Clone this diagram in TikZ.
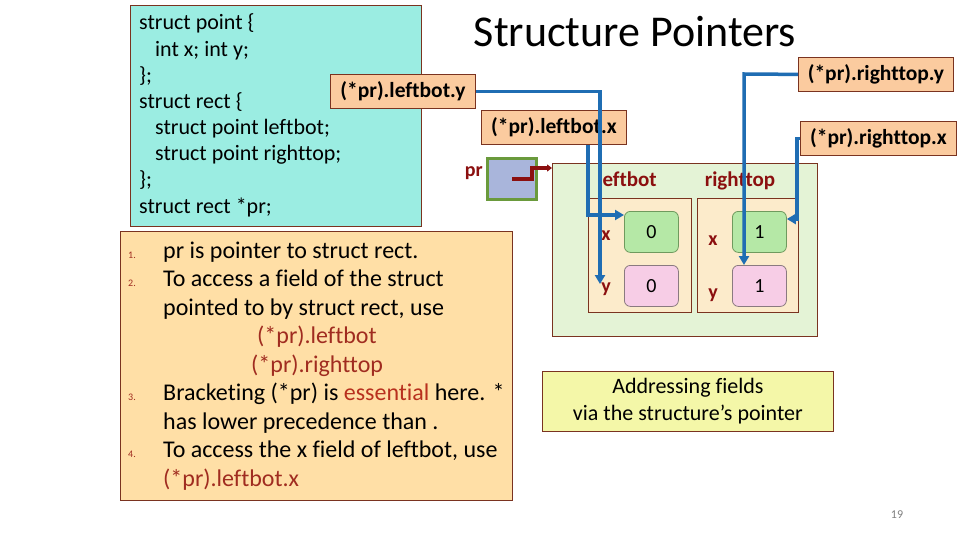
\documentclass[tikz,border=0pt]{standalone}
\usepackage{fontspec}
\setmainfont[Ligatures=NoCommon]{Carlito}
\usetikzlibrary{arrows.meta}
\definecolor{cyanbg}{HTML}{9BEDE2}
\definecolor{brd}{HTML}{7A3320}
\definecolor{peach}{HTML}{FBCB9F}
\definecolor{orangebg}{HTML}{FFDFA6}
\definecolor{outerbg}{HTML}{E4F3D6}
\definecolor{innerbg}{HTML}{FCEBCB}
\definecolor{greenv}{HTML}{B5E8A6}
\definecolor{greenvb}{HTML}{6F9A5E}
\definecolor{pinkv}{HTML}{F7CDE6}
\definecolor{pinkvb}{HTML}{8A7A80}
\definecolor{arrblue}{HTML}{1F6DB3}
\definecolor{dred}{HTML}{8B0F0F}
\definecolor{tred}{HTML}{A02C20}
\definecolor{ered}{HTML}{B8301E}
\definecolor{prfill}{HTML}{A9B5DB}
\definecolor{prbrd}{HTML}{6A9A3C}
\definecolor{yellowbg}{HTML}{F4F7A8}
\begin{document}
\begin{tikzpicture}[x=1pt,y=-1pt,
  box/.style={draw=brd, line width=0.8pt, inner sep=0pt, anchor=north west},
  lbl/.style={box, fill=peach, font=\fontsize{21.5}{24}\selectfont\bfseries},
  val/.style={draw, line width=0.8pt, rounded corners=6pt, inner sep=0pt, anchor=north west,
    minimum width=54pt, minimum height=41pt, font=\fontsize{20}{24}\selectfont},
  codeline/.style={anchor=base west, inner sep=0pt, font=\fontsize{22}{26}\selectfont},
  listline/.style={anchor=base west, inner sep=0pt, font=\fontsize{24}{28}\selectfont},
  numline/.style={anchor=base west, inner sep=0pt, font=\fontsize{10}{12}\selectfont, text=tred},
  fld/.style={anchor=base, inner sep=0pt, font=\fontsize{20}{24}\selectfont\bfseries, text=dred},
  bluearr/.style={draw=arrblue, line width=3.5pt, -{Triangle[length=9pt,width=10pt]}},
  ptrarr/.style={draw=dred, line width=3.5pt, -{Triangle[length=5pt,width=7pt]}}]
\useasboundingbox[fill=white] (0,0) rectangle (960,540);

% title
\node[anchor=base, inner sep=0pt, font=\fontsize{44}{50}\selectfont] (title) at (635,47) {Structure Pointers};

% code box
\node[box, fill=cyanbg, minimum width=291pt, minimum height=221pt] (code) at (130,5) {};
\node[codeline] (c1) at (139,30) {struct point \{};
\node[codeline] (c2) at (155,56.1) {int x; int y;};
\node[codeline] (c3) at (139,82.3) {\};};
\node[codeline] (c4) at (139,108.4) {struct rect \{};
\node[codeline] (c5) at (155,134.6) {struct point leftbot;};
\node[codeline] (c6) at (155,160.7) {struct point righttop;};
\node[codeline] (c7) at (139,186.9) {\};};
\node[codeline] (c8) at (139,213) {struct rect *pr;};

% list box
\node[box, fill=orangebg, minimum width=392pt, minimum height=269pt] (list) at (120,231) {};
\node[numline] (n1) at (128,258) {1.};
\node[numline] (n2) at (128,286.5) {2.};
\node[numline] (n3) at (128,400.5) {3.};
\node[numline] (n4) at (128,457.5) {4.};
\node[listline] (l1) at (163,258) {pr is pointer to struct rect.};
\node[listline] (l2) at (163,286.5) {To access a field of the struct};
\node[listline] (l3) at (163,315) {pointed to by struct rect, use};
\node[listline, text=tred] (l4) at (257,343.5) {(*pr).leftbot};
\node[listline, text=tred] (l5) at (251,372) {(*pr).righttop};
\node[listline] (l6) at (163,400.5) {Bracketing (*pr) is \textcolor{ered}{essential} here. *};
\node[listline] (l7) at (163,429) {has lower precedence than .};
\node[listline] (l8) at (163,457.5) {To access the x field of leftbot, use};
\node[listline, text=tred] (l9) at (163,486) {(*pr).leftbot.x};

% structure picture
\node[box, fill=outerbg, minimum width=265pt, minimum height=173pt] (outer) at (552,163) {};
\node[box, fill=innerbg, minimum width=103pt, minimum height=114pt] (lbbox) at (588,198) {};
\node[box, fill=innerbg, minimum width=101pt, minimum height=114pt] (rtbox) at (697,198) {};
\node[fld, font=\fontsize{21}{24}\selectfont\bfseries] (lbname) at (627,186) {leftbot};
\node[fld, font=\fontsize{21}{24}\selectfont\bfseries] (rtname) at (740,186) {righttop};
\node[val, fill=greenv, draw=greenvb] (lbxv) at (624,211) {0};
\node[val, fill=pinkv, draw=pinkvb] (lbyv) at (624,265) {0};
\node[val, fill=greenv, draw=greenvb] (rtxv) at (732,211) {1};
\node[val, fill=pinkv, draw=pinkvb] (rtyv) at (732,265) {1};
\node[fld] (lbxl) at (606,240) {x};
\node[fld] (lbyl) at (606,292) {y};
\node[fld] (rtxl) at (713,245) {x};
\node[fld] (rtyl) at (713,298) {y};

% pointer variable
\node[box, draw=prbrd, line width=3pt, fill=prfill, minimum width=49pt, minimum height=41pt] (pr) at (486,157) {};
\node[fld, anchor=base east] (prname) at (483,176) {pr};

% labels
\node[lbl, minimum width=145pt, minimum height=34pt] (lby) at (330,74) {(*pr).leftbot.y};
\node[lbl, minimum width=145pt, minimum height=34pt] (lbx) at (481,110) {(*pr).leftbot.x};
\node[lbl, minimum width=155pt, minimum height=34pt] (rty) at (798,57) {(*pr).righttop.y};
\node[lbl, minimum width=156pt, minimum height=34pt] (rtx) at (800,121) {(*pr).righttop.x};

% caption box
\node[box, fill=yellowbg, minimum width=291pt, minimum height=60pt,
  font=\fontsize{22}{27}\selectfont, align=center] (cap) at (542,371)
  {Addressing fields\\via the structure’s pointer};

% page number
\node[inner sep=0pt, font=\fontsize{12}{14}\selectfont, text=gray] (pg) at (897,515) {19};

% arrows
\coordinate (k0) at (600,284);
\coordinate (k1) at (588,215);
\coordinate (k3) at (744,74);
\coordinate (k4) at (797,219);
\coordinate (k5) at (532,168);
\draw[bluearr] (lby.east) -| (k0);
\draw[bluearr] (lbx.south -| k1) -- (k1) -- (k1 -| lbxv.west);
\draw[bluearr] (rty.west) -- (k3) -- (k3 |- rtyv.north);
\draw[bluearr] (rtx.west) -| (k4) -- (k4 -| rtxv.east);
\draw[ptrarr] (pr.center) -| (k5) -- (k5 -| outer.west);
\end{tikzpicture}
\end{document}
